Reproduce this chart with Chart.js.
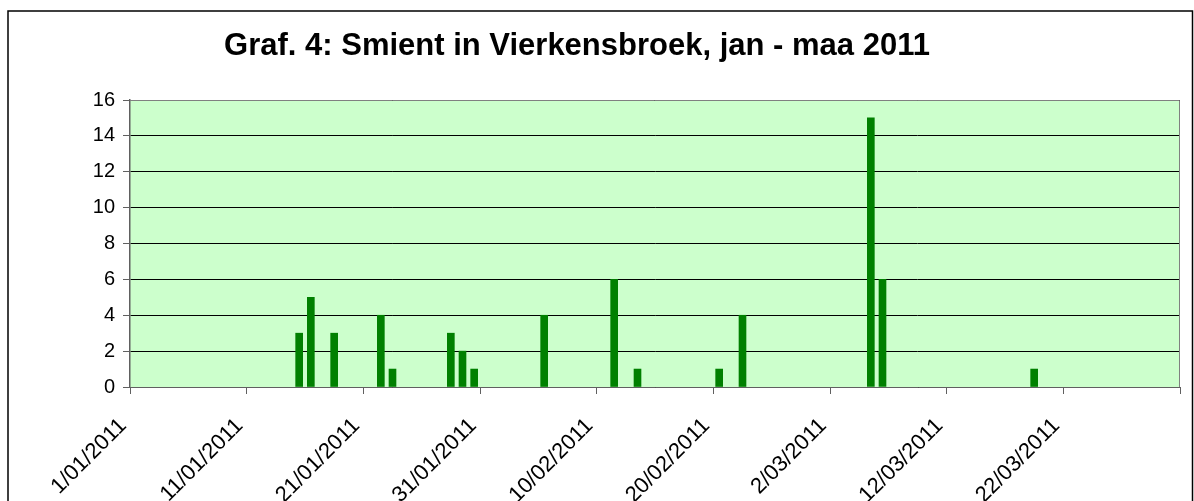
<!DOCTYPE html>
<html>
<head>
<meta charset="utf-8">
<script src="https://cdn.jsdelivr.net/npm/chart.js@4.4.0/dist/chart.umd.min.js"></script>
<style>
  html, body { margin: 0; padding: 0; background: #fff; }
  #wrap { width: 1194px; height: 501px; }
</style>
</head>
<body>
<div id="wrap"><canvas id="chart"></canvas></div>
<script>
// observation days and number of birds counted
const countDates = ['15/01/2011', '16/01/2011', '18/01/2011', '22/01/2011', '23/01/2011',
  '28/01/2011', '29/01/2011', '30/01/2011', '5/02/2011', '11/02/2011', '13/02/2011',
  '20/02/2011', '22/02/2011', '5/03/2011', '6/03/2011', '19/03/2011'];
const counts = [3, 5, 3, 4, 1, 3, 2, 1, 4, 6, 1, 1, 4, 15, 6, 1];

const axisStart = '1/01/2011';
const axisEnd = '1/04/2011';
const xTickStepDays = 10;
const yMax = 16;
const yTickStep = 2;

const titleText = 'Graf. 4: Smient in Vierkensbroek, jan - maa 2011';

const DAY = 86400000;
function parseDate(s) {
  const p = s.split('/').map(Number);
  return Date.UTC(p[2], p[1] - 1, p[0]);
}
const startMs = parseDate(axisStart);
const spanDays = (parseDate(axisEnd) - startMs) / DAY;

// every day is one slot on the axis, bar sits in the middle of its day
const points = countDates.map((d, i) => ({ x: (parseDate(d) - startMs) / DAY + 0.5, y: counts[i] }));

function formatDay(v) {
  if (v >= spanDays) return '';
  const d = new Date(startMs + v * DAY);
  const mm = String(d.getUTCMonth() + 1).padStart(2, '0');
  return d.getUTCDate() + '/' + mm + '/' + d.getUTCFullYear();
}

const framePlugin = {
  id: 'frame',
  beforeDraw(chart) {
    const { ctx, chartArea: a } = chart;
    ctx.save();
    ctx.fillStyle = '#fff';
    ctx.fillRect(0, 0, chart.width, chart.height);
    ctx.fillStyle = '#CCFFCC';
    ctx.fillRect(a.left, a.top, a.right - a.left, a.bottom - a.top);
    ctx.restore();
  },
  afterDraw(chart) {
    const { ctx, chartArea: a } = chart;
    ctx.save();
    // plot area border (top / right)
    ctx.strokeStyle = '#808080';
    ctx.lineWidth = 1;
    ctx.beginPath();
    ctx.moveTo(a.left, a.top + 0.5);
    ctx.lineTo(a.right - 0.5, a.top + 0.5);
    ctx.lineTo(a.right - 0.5, a.bottom);
    ctx.stroke();
    // outer chart border
    ctx.strokeStyle = '#000';
    ctx.lineWidth = 1.5;
    ctx.strokeRect(8, 11, chart.width - 9.5, chart.height + 10);
    // title
    ctx.fillStyle = '#000';
    ctx.font = 'bold 31px "Liberation Sans", Arial, sans-serif';
    ctx.textAlign = 'center';
    ctx.textBaseline = 'alphabetic';
    ctx.fillText(titleText, 577, 55);
    ctx.restore();
  }
};

const fontFamily = '"Liberation Sans", Arial, sans-serif';

new Chart(document.getElementById('chart'), {
  type: 'bar',
  data: {
    datasets: [{
      data: points,
      backgroundColor: '#008000',
      borderWidth: 0,
      barThickness: 7
    }]
  },
  options: {
    responsive: true,
    maintainAspectRatio: false,
    animation: false,
    layout: { padding: { left: 0, right: 14, top: 100, bottom: 0 } },
    plugins: {
      legend: { display: false },
      title: { display: false },
      tooltip: { enabled: false }
    },
    scales: {
      x: {
        type: 'linear',
        min: 0,
        max: spanDays,
        offset: false,
        afterFit(scale) { scale.height = 114; },
        afterUpdate(scale) { scale.paddingRight = 0; },
        grid: {
          drawOnChartArea: false,
          drawTicks: true,
          tickLength: 7,
          color: '#606060',
          offset: false
        },
        border: { display: true, color: '#606060', width: 1 },
        ticks: {
          stepSize: xTickStepDays,
          autoSkip: false,
          maxRotation: 45,
          minRotation: 45,
          padding: 19,
          labelOffset: -7,
          color: '#000',
          font: { family: fontFamily, size: 22 },
          callback: (v) => formatDay(v)
        }
      },
      y: {
        min: 0,
        max: yMax,
        afterFit(scale) { scale.width = 130; },
        grid: {
          color: '#000',
          lineWidth: 1,
          drawTicks: true,
          tickLength: 7,
          tickColor: '#606060'
        },
        border: { display: true, color: '#606060', width: 1.5 },
        ticks: {
          stepSize: yTickStep,
          padding: 8,
          color: '#000',
          font: { family: fontFamily, size: 20 }
        }
      }
    }
  },
  plugins: [framePlugin]
});
</script>
</body>
</html>
